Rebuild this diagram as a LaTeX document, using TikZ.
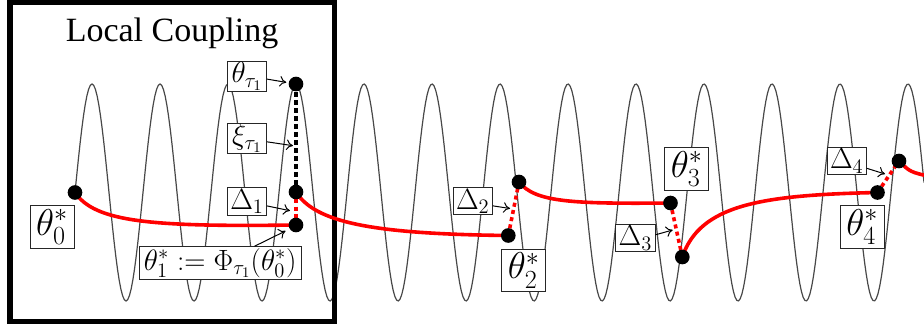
\RequirePackage{fix-cm}
\documentclass[tikz,border=0pt]{standalone}
\usepackage{fontspec}
\newfontfamily\titlefont{Liberation Serif}
\usetikzlibrary{arrows.meta}

\tikzset{every picture/.style={line width=0.75pt}}
\tikzset{
  wave/.style={color={rgb, 255:red, 72; green, 72; blue, 72 },line width=0.9pt},
  path red/.style={color=red,line width=2.7pt},
  gap red/.style={color=red,line width=2.7pt,dash pattern=on 3pt off 2.5pt},
  gap black/.style={color=black,line width=2.5pt,dash pattern=on 3.5pt off 2.5pt},
  state dot/.style={circle,fill=black,inner sep=0pt,minimum size=11pt},
  lbl/.style={draw=black!85,fill=white,line width=0.6pt,inner sep=0pt,font=\fontsize{22}{26}\selectfont},
  small lbl/.style={lbl,minimum width=29.4pt,minimum height=23pt},
  delta lbl/.style={lbl,minimum width=29.6pt,minimum height=20.5pt},
  star lbl/.style={lbl,minimum width=33pt,minimum height=32pt,font=\fontsize{28}{32}\selectfont},
  tag/.style={-{To[length=5pt,width=8pt]},line width=0.75pt},
}

\begin{document}
\begin{tikzpicture}[x=0.75pt,y=0.75pt,yscale=-1,xscale=1]
\useasboundingbox (0,0) rectangle (924,331);

%Shape: Sine Wave
\draw[wave] plot[domain=75:924,samples=500] (\x,{192.5-108.5*cos((\x-296)/68*360)});

%Shape: Rectangle (local coupling frame)
\draw[line width=4.1pt] (10,2.6) rectangle (334.5,321.5);
%Text Node
\node[font=\titlefont\fontsize{25.5}{30}\selectfont,anchor=base] (title) at (172,41.7) {Local Coupling};

%Points on the chain
\coordinate (t0) at (75,192.5);
\coordinate (ttau) at (296,84);
\coordinate (x1) at (296,192);
\coordinate (t1) at (296,225);
\coordinate (t2) at (508.3,235.5);
\coordinate (x2) at (519,182);
\coordinate (t3) at (670.5,203);
\coordinate (x3) at (682.3,257);
\coordinate (t4) at (877.5,192.5);
\coordinate (x4) at (899,161);
\coordinate (rend) at (932,177);

%Curve Lines
\draw[path red] (t0) .. controls (95,222) and (150,227) .. (t1);
\draw[path red] (x1) .. controls (315,222) and (370,234) .. (t2);
\draw[path red] (x2) .. controls (535,202) and (570,204) .. (t3);
\draw[path red] (x3) .. controls (700,205) and (760,195) .. (t4);
\draw[path red] (x4) .. controls (910,172) .. (rend);

%Straight Lines (jumps)
\draw[gap black] (ttau) -- (x1);
\draw[gap red] (x1) -- (t1);
\draw[gap red] (t2) -- (x2);
\draw[gap red] (t3) -- (x3);
\draw[gap red] (t4) -- (x4);

%Shape: Circle
\node[state dot] (t0 dot) at (t0) {};
\node[state dot] (ttau dot) at (ttau) {};
\node[state dot] (x1 dot) at (x1) {};
\node[state dot] (t1 dot) at (t1) {};
\node[state dot] (t2 dot) at (t2) {};
\node[state dot] (x2 dot) at (x2) {};
\node[state dot] (t3 dot) at (t3) {};
\node[state dot] (x3 dot) at (x3) {};
\node[state dot] (t4 dot) at (t4) {};
\node[state dot] (x4 dot) at (x4) {};

%Text Node
\node[small lbl] (lbl tau) at (247,76.3) {$\theta_{\tau_1}$};
\node[small lbl] (lbl xi) at (247,138.3) {$\xi_{\tau_1}$};
\node[delta lbl] (lbl d1) at (247,201.3) {$\Delta_1$};
\node[lbl,minimum width=121.3pt,minimum height=24.5pt] (lbl phi) at (220.2,263) {$\theta_1^* := \Phi_{\tau_1}(\theta_0^*)$};
\node[star lbl] (lbl t0) at (52,226.7) {$\theta_0^*$};
\node[star lbl] (lbl t2) at (523.8,270.5) {$\theta_2^*$};
\node[delta lbl] (lbl d2) at (472.7,201.2) {$\Delta_2$};
\node[star lbl] (lbl t3) at (686.7,168.7) {$\theta_3^*$};
\node[delta lbl] (lbl d3) at (635.3,238) {$\Delta_3$};
\node[star lbl] (lbl t4) at (862.2,227) {$\theta_4^*$};
\node[delta lbl] (lbl d4) at (846.7,161) {$\Delta_4$};

%Straight Lines (pointers)
\coordinate (xi tip) at (293,145.7);
\coordinate (d1 tip) at (290,210.7);
\coordinate (phi tip) at (285.5,231);
\coordinate (d2 tip) at (510,208.5);
\coordinate (d3 tip) at (672.7,230);
\coordinate (d4 tip) at (885,174);
\draw[tag,shorten >=1.5pt] (lbl tau.-8) -- (ttau dot);
\draw[tag] (lbl xi.-10) -- (xi tip);
\draw[tag] (lbl d1.-13) -- (d1 tip);
\draw[tag] (lbl phi.26) -- (phi tip);
\draw[tag] (lbl d2.-13) -- (d2 tip);
\draw[tag] (lbl d3.9) -- (d3 tip);
\draw[tag] (lbl d4.-20) -- (d4 tip);

\end{tikzpicture}
\end{document}
